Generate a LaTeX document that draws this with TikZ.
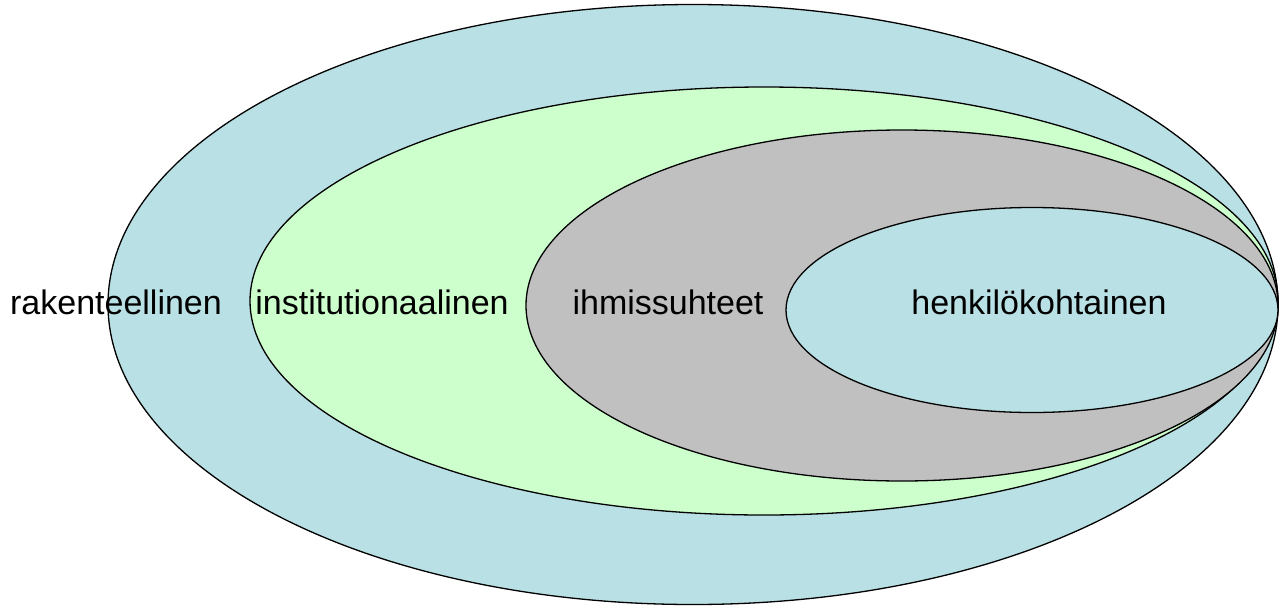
\documentclass[tikz,border=0pt]{standalone}
\usepackage{fontspec}
\setmainfont{Liberation Sans}
\definecolor{cblue}{RGB}{185,224,228}
\definecolor{cgreen}{RGB}{204,255,204}
\definecolor{cgray}{RGB}{192,192,192}
\begin{document}
\begin{tikzpicture}[x=1pt,y=-1pt,
  ring/.style={draw=black,line width=1.3pt},
  lbl/.style={font=\fontsize{34}{40}\selectfont,inner sep=0pt,anchor=base}]
\useasboundingbox (0,0) rectangle (1284,608);
\fill[white] (0,0) rectangle (1284,608);
\path[ring,fill=cblue] (693,304.5) ellipse [x radius=585,y radius=300];
\path[ring,fill=cgreen] (764,301) ellipse [x radius=514,y radius=214];
\path[ring,fill=cgray] (902,305.5) ellipse [x radius=376,y radius=175.5];
\path[ring,fill=cblue] (1032,310) ellipse [x radius=246,y radius=102.5];
\node[lbl] (t1) at (116,314) {rakenteellinen};
\node[lbl] (t2) at (382,314) {institutionaalinen};
\node[lbl] (t3) at (668,314) {ihmissuhteet};
\node[lbl] (t4) at (1039,314) {henkilökohtainen};
\end{tikzpicture}
\end{document}
